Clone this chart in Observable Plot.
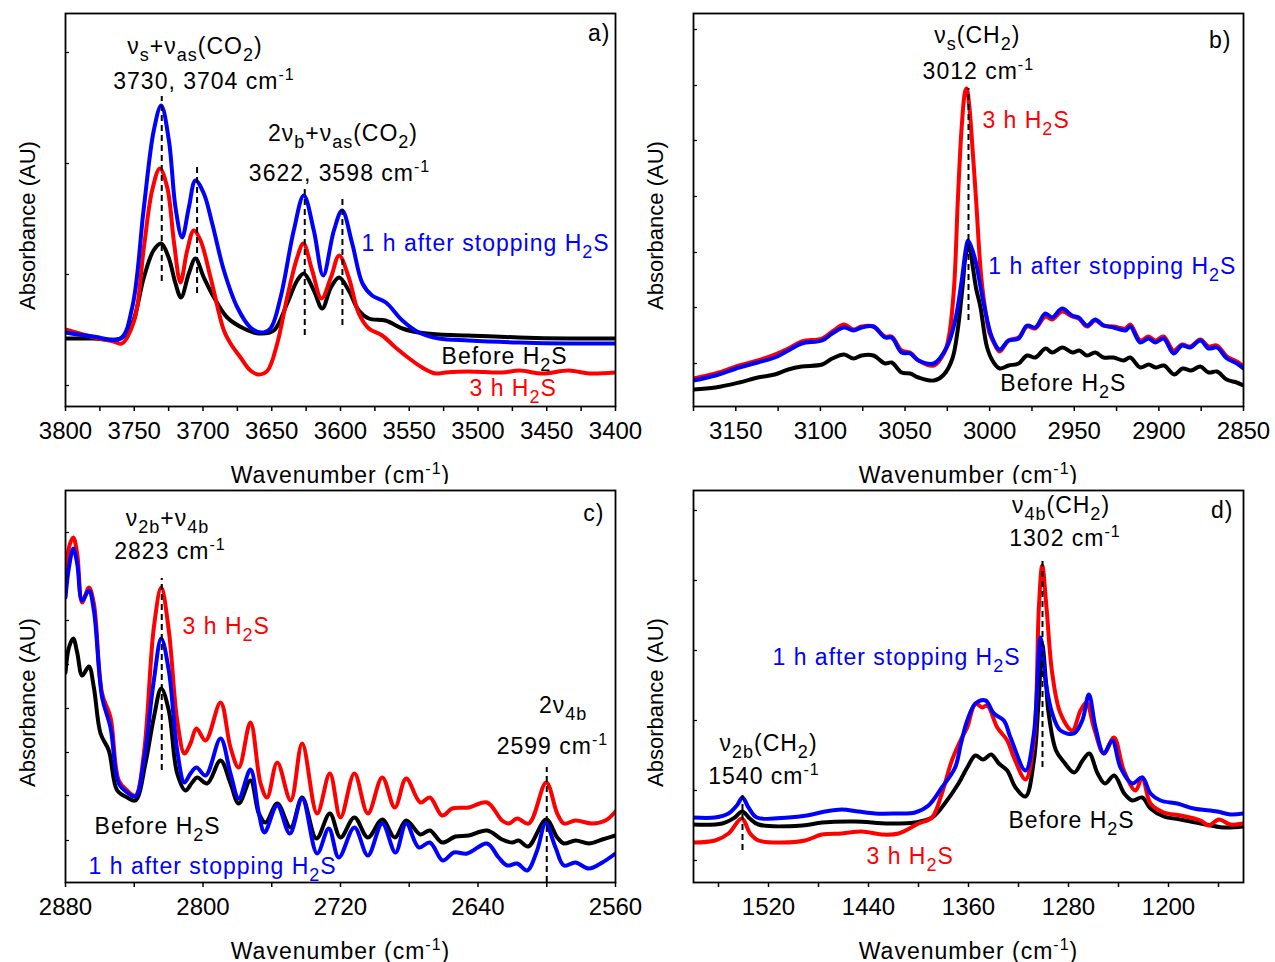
<!DOCTYPE html>
<html><head><meta charset="utf-8">
<script src="https://cdn.jsdelivr.net/npm/d3@7"></script>
<script src="https://cdn.jsdelivr.net/npm/@observablehq/plot@0.6"></script>
<style>
html,body{margin:0;padding:0;background:#fff;}
#wrap{position:relative;width:1275px;height:962px;overflow:hidden;background:#fff;}
.pane{position:absolute;}
.pane svg{overflow:hidden;background:transparent;}
</style></head>
<body><div id="wrap">
<div class="pane" id="pa" style="left:0;top:0;width:660px;height:484px"></div>
<div class="pane" id="pb" style="left:637px;top:0;width:638px;height:484px"></div>
<div class="pane" id="pc" style="left:0;top:484px;width:660px;height:478px"></div>
<div class="pane" id="pd" style="left:637px;top:484px;width:638px;height:478px"></div>
</div>
<script>
// ---------- Panel a: 3800–3400 cm-1 ----------
const aTicks = [3800,3750,3700,3650,3600,3550,3500,3450,3400];
const aMinor = [3775,3725,3675,3625,3575,3525,3475,3425];
const aBlack = [[3800,68],[3780,68],[3760,68],[3751.5,83],[3743,129],[3736,156],[3730.4,163],[3725,149],[3720,123],[3716,109],[3710.3,133],[3705.5,148],[3699.4,129],[3692,109],[3682.4,89],[3670.3,78],[3659.4,73],[3648.5,76],[3638.8,103],[3631.5,126],[3626.7,133],[3619.4,116],[3613.3,98],[3607,119],[3601,129],[3594,116],[3586.7,96],[3579.4,88],[3567.3,86],[3555,78],[3543,74],[3528.5,72],[3506.7,71],[3470,69],[3434,68],[3400,68]];
const aRed = [[3800,77],[3779,69],[3765,65],[3759,63],[3750,86],[3743,159],[3737,216],[3731.4,238],[3726,219],[3721,163],[3716.4,124],[3711.5,156],[3706.7,176],[3701.8,166],[3694.5,129],[3684.8,76],[3680,63],[3672.7,49],[3665.5,36],[3659.4,32],[3653,36],[3646,63],[3638.8,109],[3631.5,149],[3627,163],[3620.6,136],[3613.8,108],[3607,129],[3601,151],[3594,129],[3586.7,93],[3579.4,78],[3569.7,71],[3560,59],[3550,48],[3540.6,39],[3531,33],[3523.6,34],[3507,35],[3482.4,34],[3470,36],[3453,33],[3434,36],[3419,33],[3400,34]];
const aBlue = [[3800,74],[3780,70],[3760,68],[3751.5,99],[3743,199],[3735.8,276],[3730.4,301],[3724.8,266],[3720,199],[3715.2,169],[3710.3,199],[3705.5,226],[3699.4,213],[3693.3,183],[3684.8,136],[3675,99],[3665.5,79],[3658,74],[3651,78],[3643.6,109],[3634,176],[3626.7,211],[3619.4,176],[3612.6,131],[3604.8,176],[3598.8,196],[3591.5,163],[3584,123],[3577,111],[3567,104],[3555,86],[3543,74],[3528.5,68],[3506.7,66],[3470,64],[3434,63],[3400,63]];
const aDashes = [[3730,125,310],[3704.3,113,243],[3626,71,218],[3598.6,81,208]];
const aYTicks = [21,132,243,354];
const aNotes = [
  {x:3705.8,y:353,text:"ν_{s}+ν_{as}(CO_{2})",c:"black",a:"middle"},
  {x:3699.3,y:318,text:"3730, 3704 cm^{-1}",c:"black",a:"middle"},
  {x:3598.2,y:266,text:"2ν_{b}+ν_{as}(CO_{2})",c:"black",a:"middle"},
  {x:3600.7,y:226,text:"3622, 3598 cm^{-1}",c:"black",a:"middle"},
  {x:3584.7,y:156,text:"1 h after stopping H_{2}S",c:"blue",a:"start"},
  {x:3526.5,y:43,text:"Before H_{2}S",c:"black",a:"start"},
  {x:3506.2,y:11,text:"3 h H_{2}S",c:"red",a:"start"}
];

// ---------- Panel b: 3175–2850 cm-1 ----------
const bTicks = [3150,3100,3050,3000,2950,2900,2850];
const bMinor = [3175,3125,3075,3025,2975,2925,2875];
const bBlack = [[3175,17],[3162,19],[3148,24],[3137,29],[3127,32],[3119,37],[3111,40],[3099,42],[3093,48],[3086,52],[3080.5,48],[3075.6,51],[3068.7,51],[3061.8,43],[3057.9,44],[3052,34],[3047,33],[3042,29],[3033,26],[3027,32],[3022,48],[3019,75],[3016,120],[3014,152],[3012,160],[3010,140],[3008,118],[3005.5,100],[3001.5,59],[2998,45],[2994,38],[2988.8,41],[2982.9,43],[2977.9,51],[2973,49],[2967,58],[2963,54],[2957,59],[2951,54],[2947,56],[2942.5,51],[2937.6,54],[2932.7,49],[2926.8,49],[2920.8,46],[2917,49],[2911,39],[2906,42],[2902,39],[2897,41],[2891,32],[2886,38],[2881,36],[2875.5,40],[2870.6,34],[2865.7,35],[2860,27],[2854,24],[2850,21]];
const bRed = [[3175,28],[3162,33],[3148,41],[3137,46],[3127,52],[3119,58],[3111,65],[3099,68],[3093,75],[3086,82],[3080.5,77],[3075.6,80],[3068.7,80],[3061.8,70],[3057.9,70],[3052,56],[3047,54],[3042,46],[3033,41],[3026.5,55],[3023.8,73],[3021,120],[3018.8,206],[3016.5,280],[3014.5,315],[3013.6,318],[3012,300],[3010,255],[3008,206],[3005,130],[3002,90],[3000,73],[2997,62],[2994.1,55],[2988.8,66],[2982.9,69],[2977.9,80],[2973,78],[2967.1,90],[2963.1,87],[2957.2,95],[2951.3,90],[2947.4,88],[2942.5,80],[2937.6,86],[2932.7,81],[2926.8,80],[2919.8,78],[2916.9,82],[2911,66],[2906.1,70],[2902.1,66],[2897.2,70],[2891.3,56],[2886.4,62],[2881.4,60],[2875.5,67],[2870.6,60],[2865.7,61],[2859.8,50],[2853.9,45],[2850,40]];
const bBlue = [[3175,26],[3162,31],[3148,39],[3137,44],[3127,49],[3119,56],[3111,63],[3099,66],[3093,73],[3086,79],[3080.5,76],[3075.6,79],[3068.7,80],[3061.8,69],[3057.9,69],[3052,54],[3047,53],[3042,46],[3033,43],[3025.4,59],[3020.4,86],[3016.5,126],[3014,158],[3012.8,166],[3011,160],[3008.4,146],[3003.5,103],[2998.6,69],[2994.1,57],[2988.8,66],[2982.9,68],[2977.9,81],[2973,79],[2967.1,93],[2963.1,89],[2957.2,98],[2951.3,91],[2947.4,89],[2942.5,81],[2937.6,87],[2932.7,81],[2926.8,79],[2919.8,76],[2916.9,80],[2911,64],[2906.1,68],[2902.1,64],[2897.2,68],[2891.3,53],[2886.4,61],[2881.4,59],[2875.5,66],[2870.6,58],[2865.7,59],[2859.8,48],[2853.9,43],[2850,38]];
const bDashes = [[3012.5,86,318]];
const bYTicks = [43,99,154,210,266,321,377];
const bNotes = [
  {x:3007.3,y:364,text:"ν_{s}(CH_{2})",c:"black",a:"middle"},
  {x:3006.7,y:328,text:"3012 cm^{-1}",c:"black",a:"middle"},
  {x:3004.3,y:279,text:"3 h H_{2}S",c:"red",a:"start"},
  {x:3000.8,y:133,text:"1 h after stopping H_{2}S",c:"blue",a:"start"},
  {x:2993.7,y:16,text:"Before H_{2}S",c:"black",a:"start"}
];

// ---------- Panel c: 2880–2560 cm-1 ----------
const cTicks = [2880,2800,2720,2640,2560];
const cMinor = [2840,2760,2680,2600];
const cBlack = [[2880,210],[2878,235],[2875.5,244],[2873.2,230],[2870.3,207],[2866.4,216],[2863.5,195],[2859.6,149],[2854.8,132],[2849.9,92],[2844.1,85],[2839.3,82],[2833.5,119],[2828.6,165],[2824.3,194],[2819.9,172],[2815,109],[2810.2,92],[2806.3,100],[2803.4,105],[2797.6,99],[2789.8,122],[2784,99],[2779.2,79],[2772.4,102],[2767.5,69],[2763.6,60],[2756.8,79],[2749,55],[2742.3,85],[2734,44],[2726.2,69],[2720,45],[2711.9,65],[2704.1,45],[2695.7,63],[2688.4,45],[2681.8,62],[2673.5,48],[2668,52],[2660.8,40],[2653.1,46],[2645.4,47],[2634.7,52],[2626,43],[2620.1,40],[2616.3,42],[2610.8,36],[2600.3,63],[2593.9,45],[2590,39],[2583.3,42],[2575.5,39],[2567.7,43],[2560,47]];
const cRed = [[2880,300],[2878,335],[2875.5,345],[2873.2,329],[2870.3,280],[2866.4,295],[2863.5,279],[2858.7,189],[2853.8,165],[2849,102],[2844.1,92],[2839.3,87],[2834.4,129],[2828.6,255],[2824.3,295],[2819.9,252],[2815,162],[2810.8,129],[2807.3,139],[2803.8,154],[2798.5,142],[2789.8,180],[2784,135],[2779.2,115],[2772.4,160],[2766.5,99],[2762.7,85],[2756.8,120],[2749,82],[2742.3,139],[2733.6,69],[2726.2,109],[2720,65],[2711.9,109],[2704.1,69],[2695.7,105],[2688.4,75],[2681.8,104],[2673.5,80],[2668,85],[2660.8,67],[2655,74],[2645.4,75],[2634.7,80],[2626,62],[2622.1,59],[2617.2,64],[2610.4,59],[2600.3,100],[2593.9,69],[2590,59],[2583.3,62],[2573.6,59],[2565.8,62],[2560,71]];
const cBlue = [[2880,285],[2878,315],[2875.5,334],[2873.2,319],[2870.3,282],[2866.4,292],[2863.5,272],[2858.7,185],[2853.8,155],[2849,99],[2844.1,90],[2839.3,86],[2834.4,122],[2828.6,202],[2824.3,244],[2819.9,212],[2815,132],[2810.8,100],[2807.3,109],[2803.8,115],[2798.5,107],[2789.8,144],[2784,109],[2779.2,84],[2772.4,113],[2767.5,69],[2764.2,50],[2756.8,77],[2749.5,49],[2742.3,84],[2733.6,29],[2726.8,54],[2721,25],[2711.9,55],[2704.1,27],[2695.7,59],[2688,30],[2681.8,59],[2674.4,35],[2668,40],[2660.5,22],[2654,30],[2646.3,29],[2634.7,39],[2628,25],[2623,17],[2617.2,19],[2611.4,12],[2605.6,32],[2600.7,59],[2594.9,35],[2590,17],[2583.3,20],[2575.5,14],[2567.7,20],[2560,29]];
const cDashes = [[2824,112,304],[2600,0,115]];
const cYTicks = [42,87,130,174,218,262,306,350];
const cNotes = [
  {x:2820.7,y:357,text:"ν_{2b}+ν_{4b}",c:"black",a:"middle"},
  {x:2819.2,y:324,text:"2823 cm^{-1}",c:"black",a:"middle"},
  {x:2811.9,y:249,text:"3 h H_{2}S",c:"red",a:"start"},
  {x:2590.5,y:170,text:"2ν_{4b}",c:"black",a:"middle"},
  {x:2596.7,y:129,text:"2599 cm^{-1}",c:"black",a:"middle"},
  {x:2863.1,y:49,text:"Before H_{2}S",c:"black",a:"start"},
  {x:2866.6,y:9,text:"1 h after stopping H_{2}S",c:"blue",a:"start"}
];

// ---------- Panel d: 1580–1140 cm-1 ----------
const dTicks = [1520,1440,1360,1280,1200];
const dMinor = [1560,1480,1400,1320,1240,1160];
const dBlack = [[1580,58],[1557,59],[1547,65],[1541,71],[1535,64],[1528,58],[1493,57],[1477,60],[1451,61],[1424,59],[1403,60],[1389,65],[1379,79],[1368,99],[1361,115],[1354.4,127],[1348.3,123],[1341.9,128],[1335.7,119],[1329,112],[1322.4,95],[1314.4,86],[1307.7,122],[1304,180],[1301,238],[1298,200],[1296,170],[1290,132],[1283.4,120],[1275.4,110],[1268.7,122],[1263.4,129],[1256.7,109],[1250.8,99],[1243.4,107],[1235.4,89],[1229,82],[1221,85],[1214.4,74],[1203.7,66],[1190.4,63],[1174.4,59],[1155.7,55],[1140,56]];
const dRed = [[1580,40],[1562.7,42],[1552,49],[1541.3,64],[1534.7,49],[1528,42],[1509.3,40],[1490.7,42],[1477.3,48],[1461.3,49],[1445.3,51],[1429.3,48],[1416,49],[1400,59],[1389.3,65],[1381.3,89],[1373.3,122],[1365.3,145],[1361,155],[1354.4,179],[1349,175],[1345,177],[1337,155],[1329,142],[1323.7,125],[1314.4,103],[1307.7,142],[1303.7,275],[1301,317],[1297.6,275],[1293,209],[1286.4,169],[1277,152],[1270.4,172],[1265.6,180],[1259.7,155],[1251.7,129],[1243.7,145],[1235.7,112],[1226.4,92],[1221,105],[1214.4,79],[1203.7,70],[1190.4,67],[1174.4,62],[1167.7,57],[1159.7,63],[1150.4,58],[1140,59]];
const dBlue = [[1580,65],[1562.7,65],[1552,69],[1545.3,77],[1540.8,85],[1536,75],[1529.3,65],[1504,65],[1489.3,67],[1474.7,71],[1461.3,73],[1448,71],[1434.7,69],[1418.7,69],[1402.7,70],[1392,77],[1381.3,95],[1370.7,115],[1366,139],[1361,162],[1354.4,179],[1346.4,182],[1339.7,169],[1331.7,162],[1326.4,145],[1314.4,112],[1307.7,149],[1302.4,245],[1298.4,202],[1293,169],[1286.4,152],[1275.7,149],[1269,162],[1263.7,188],[1258.4,155],[1251.7,129],[1245,142],[1238.4,115],[1229,99],[1221,105],[1214.4,89],[1206.4,82],[1193,79],[1179.7,74],[1161,71],[1150.4,68],[1140,69]];
const dDashes = [[1540.8,32,87],[1300.8,115,324]];
const dYTicks = [22,92,162,232,302,372];
const dNotes = [
  {x:1286,y:370,text:"ν_{4b}(CH_{2})",c:"black",a:"middle"},
  {x:1282.8,y:337,text:"1302 cm^{-1}",c:"black",a:"middle"},
  {x:1516.8,y:218,text:"1 h after stopping H_{2}S",c:"blue",a:"start"},
  {x:1520,y:132,text:"ν_{2b}(CH_{2})",c:"black",a:"middle"},
  {x:1523.6,y:99,text:"1540 cm^{-1}",c:"black",a:"middle"},
  {x:1328,y:55,text:"Before H_{2}S",c:"black",a:"start"},
  {x:1441.6,y:19,text:"3 h H_{2}S",c:"red",a:"start"}
];

const COLORS = {black:"#000000", red:"#ff0000", blue:"#0000ff"};
const FONT = "'Liberation Sans', Arial, Helvetica, sans-serif";
const NS = "http://www.w3.org/2000/svg";

function richify(svg) {
  svg.querySelectorAll('g[aria-label="text"] text').forEach(t => {
    const s = t.textContent;
    if (!s.startsWith("Absorbance")) t.style.letterSpacing = "1px";
    if (!/[_^]\{/.test(s)) return;
    while (t.firstChild) t.removeChild(t.firstChild);
    const re = /([_^])\{([^}]*)\}|([^_^]+)/g;
    let m, shift = 0;
    while ((m = re.exec(s))) {
      const ts = document.createElementNS(NS, "tspan");
      let target = 0;
      if (m[1] === "_") { target = 7; ts.setAttribute("font-size", "18"); }
      else if (m[1] === "^") { target = -9; ts.setAttribute("font-size", "16"); }
      const dy = target - shift;
      if (dy) ts.setAttribute("dy", dy);
      shift = target;
      ts.textContent = m[1] ? m[2] : m[3];
      t.appendChild(ts);
    }
  });
}

function panel(o) {
  const fw = o.w - o.ml - o.mr;
  const line = (d, c) => Plot.line(d, {x: d => d[0], y: d => d[1], stroke: COLORS[c], strokeWidth: 4, curve: "catmull-rom", strokeLinejoin: "round", clip: true});
  const notes = ["black","red","blue"].map(c => Plot.text(o.notes.filter(n => n.c === c && n.a === "middle"), {x: "x", y: "y", text: "text", fill: COLORS[c], fontSize: 23, textAnchor: "middle", lineAnchor: "bottom"}))
    .concat(["black","red","blue"].map(c => Plot.text(o.notes.filter(n => n.c === c && n.a === "start"), {x: "x", y: "y", text: "text", fill: COLORS[c], fontSize: 23, textAnchor: "start", lineAnchor: "bottom"})));
  const svg = Plot.plot({
    width: o.w, height: o.h,
    marginLeft: o.ml, marginRight: o.mr, marginTop: o.mt, marginBottom: o.mb,
    style: {fontFamily: FONT, fontSize: "24px", color: "#000", background: "transparent", overflow: "hidden"},
    x: {domain: o.xDomain},
    y: {domain: [0, o.yMax], axis: null},
    marks: [
      line(o.black, "black"),
      line(o.red, "red"),
      line(o.blue, "blue"),
      Plot.ruleX(o.dashes, {x: d => d[0], y1: d => d[1], y2: d => d[2], stroke: "#000", strokeWidth: 2, strokeDasharray: "6,4"}),
      ...notes,
      Plot.text([o.letter], {frameAnchor: "top-right", textAnchor: "end", lineAnchor: "bottom", dx: o.ldx, dy: o.ldy, fontSize: 23, fill: "#000"}),
      Plot.text(["Absorbance (AU)"], {frameAnchor: "left", textAnchor: "middle", lineAnchor: "middle", rotate: -90, dx: -38, dy: o.absDy, fontSize: 22, fill: "#000"}),
      Plot.text(["Wavenumber (cm^{-1})"], {frameAnchor: "bottom", textAnchor: "middle", lineAnchor: "bottom", dy: 76, fontSize: 23, fill: "#000"}),
      Plot.tickY(o.yTicks, {y: d => d, insetRight: fw - 4, stroke: "#000", strokeWidth: 1.2}),
      Plot.frame({stroke: "#000", strokeWidth: 1.8}),
      Plot.axisX({ticks: o.major, tickFormat: "d", tickSize: 5, tickPadding: 10, label: null, strokeWidth: 1.5, fontSize: 24}),
      Plot.axisX({ticks: o.minor, tickFormat: () => "", tickSize: 5, label: null, strokeWidth: 1.5})
    ]
  });
  richify(svg);
  return svg;
}

document.getElementById("pa").append(panel({
  w: 660, h: 484, ml: 65, mr: 45, mt: 13, mb: 78, xDomain: [3800, 3400], yMax: 393,
  major: aTicks, minor: aMinor, black: aBlack, red: aRed, blue: aBlue, dashes: aDashes,
  yTicks: aYTicks, notes: aNotes, letter: "a)", ldx: -5, ldy: 27, absDy: 15.5
}));
document.getElementById("pb").append(panel({
  w: 638, h: 484, ml: 56, mr: 32, mt: 13, mb: 78, xDomain: [3175, 2850], yMax: 393,
  major: bTicks, minor: bMinor, black: bBlack, red: bRed, blue: bBlue, dashes: bDashes,
  yTicks: bYTicks, notes: bNotes, letter: "b)", ldx: -12, ldy: 34, absDy: 15.5
}));
document.getElementById("pc").append(panel({
  w: 660, h: 478, ml: 65, mr: 45, mt: 6, mb: 80, xDomain: [2880, 2560], yMax: 392,
  major: cTicks, minor: cMinor, black: cBlack, red: cRed, blue: cBlue, dashes: cDashes,
  yTicks: cYTicks, notes: cNotes, letter: "c)", ldx: -11, ldy: 30, absDy: 16
}));
document.getElementById("pd").append(panel({
  w: 638, h: 478, ml: 56, mr: 32, mt: 6, mb: 80, xDomain: [1580, 1140], yMax: 392,
  major: dTicks, minor: dMinor, black: dBlack, red: dRed, blue: dBlue, dashes: dDashes,
  yTicks: dYTicks, notes: dNotes, letter: "d)", ldx: -10, ldy: 27, absDy: 16
}));
</script>
</body></html>
